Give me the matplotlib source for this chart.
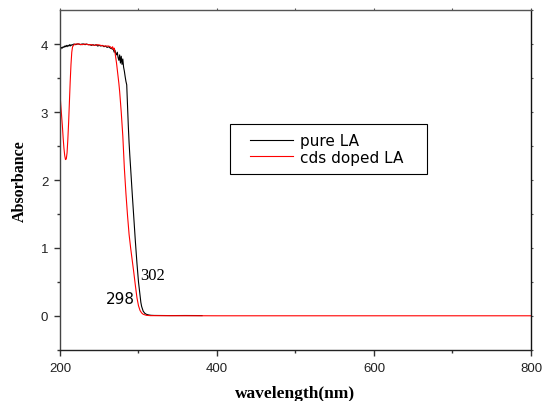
import matplotlib
matplotlib.use("Agg")
import matplotlib.pyplot as plt
from matplotlib.lines import Line2D
from matplotlib.legend_handler import HandlerLine2D
import numpy as np

# pure LA (black)
wl_pure = [200, 201, 202, 203, 204, 205, 206, 207, 208, 209, 210, 211, 212, 213, 214, 215, 216,
           218, 220, 222, 224, 226, 228, 230, 232, 234, 236, 238, 240, 242, 244, 246, 248, 250,
           252, 254, 256, 258, 260, 262, 264, 266, 268, 269, 270, 271, 272, 273, 274, 275, 276,
           277, 278, 279, 280, 281, 282, 283, 284, 285, 286, 287, 288, 289, 290, 292, 294, 296,
           298, 300, 302, 303, 304, 306, 308, 310, 313, 316, 320, 340, 360, 381]
abs_pure = [3.90, 3.93, 3.95, 3.94, 3.96, 3.95, 3.97, 3.96, 3.98, 3.96, 3.98, 3.97, 3.99, 3.97, 3.99, 3.98, 3.99,
            4.00, 3.99, 4.00, 4.00, 3.99, 4.00, 4.00, 3.99, 4.00, 3.99, 3.99, 3.98, 3.99, 3.98, 3.99, 3.97, 3.98,
            3.97, 3.98, 3.96, 3.97, 3.95, 3.96, 3.94, 3.93, 3.92, 3.88, 3.91, 3.86, 3.84, 3.88, 3.80, 3.76, 3.84,
            3.72, 3.82, 3.70, 3.78, 3.66, 3.60, 3.52, 3.45, 3.40, 3.10, 2.80, 2.55, 2.35, 2.17, 1.80, 1.45, 1.10,
            0.78, 0.50, 0.30, 0.20, 0.14, 0.07, 0.04, 0.025, 0.015, 0.01, 0.008, 0.006, 0.007, 0.006]

# cds doped LA (red)
wl_cds = [200, 201, 202, 203, 204, 205, 206, 207, 208, 209, 210, 211, 212, 213, 214, 215, 216, 218,
          220, 224, 228, 232, 236, 240, 244, 248, 252, 256, 260, 262, 264, 266, 267, 268, 269, 270,
          271, 272, 273, 274, 275, 276, 278, 280, 282, 284, 286, 288, 290, 292, 294, 296, 298, 300,
          302, 304, 306, 310, 315, 400, 600, 800]
abs_cds = [3.27, 3.10, 2.95, 2.80, 2.62, 2.47, 2.36, 2.30, 2.31, 2.40, 2.60, 2.85, 3.15, 3.45, 3.70, 3.88, 3.96, 3.99,
           4.00, 4.00, 3.99, 4.00, 3.99, 3.99, 3.98, 3.99, 3.98, 3.97, 3.97, 3.97, 3.96, 3.94, 3.96, 3.92, 3.94, 3.88,
           3.80, 3.72, 3.62, 3.52, 3.42, 3.30, 3.00, 2.65, 2.17, 1.80, 1.48, 1.20, 1.00, 0.82, 0.64, 0.45, 0.27, 0.15,
           0.08, 0.045, 0.025, 0.01, 0.005, 0.003, 0.003, 0.003]

x_ticks = [200, 400, 600, 800]
y_ticks = [0, 1, 2, 3, 4]

fig = plt.figure(figsize=(5.42, 4.02), dpi=100)
ax = fig.add_axes([0.1107, 0.1269, 0.869, 0.8457])

ax.plot(wl_pure, abs_pure, color="black", lw=0.8, label="pure LA")
ax.plot(wl_cds, abs_cds, color="red", lw=0.8, label="cds doped LA")

ax.set_xlim(200, 800)
ax.set_ylim(-0.5, 4.5)
ax.set_xticks(x_ticks)
ax.set_yticks(y_ticks)
ax.set_xticks([300, 500, 700], minor=True)
ax.set_yticks([-0.5, 0.5, 1.5, 2.5, 3.5], minor=True)
ax.tick_params(which="both", direction="out", labelsize=9.5, width=1.0, color="#333333")
ax.tick_params(which="major", length=4.5, pad=4)
ax.tick_params(which="minor", length=2.5)
ax.tick_params(top=False, right=False, which="both")
# tiny ticks on top/right spines
sec_top = ax.secondary_xaxis("top")
sec_top.set_xticks([200, 300, 400, 500, 600, 700, 800])
sec_top.tick_params(length=1.2, labeltop=False, color="#555555")
sec_top.spines["top"].set_visible(False)
sec_right = ax.secondary_yaxis("right")
sec_right.set_yticks([-0.5, 0, 0.5, 1, 1.5, 2, 2.5, 3, 3.5, 4, 4.5])
sec_right.tick_params(length=1.2, labelright=False, color="#555555")
sec_right.spines["right"].set_visible(False)

for lab in ax.get_xticklabels() + ax.get_yticklabels():
    lab.set_family("Liberation Sans")
    lab.set_color("#222222")
ax.spines["top"].set_color("#555555")
ax.spines["left"].set_color("#444444")
ax.spines["bottom"].set_color("#222222")
ax.spines["right"].set_color("#111111")
for s in ax.spines.values():
    s.set_linewidth(1.0)

ax.set_xlabel("wavelength(nm)", family="Liberation Serif", fontweight="bold", fontsize=12.5, labelpad=8)
ax.set_ylabel("Absorbance", family="Liberation Serif", fontweight="bold", fontsize=11.5, labelpad=9)

ax.text(302, 0.6, "302", family="Liberation Serif", fontsize=12, va="center", ha="left")
ax.text(258.5, 0.25, "298", family="DejaVu Sans", fontsize=11, va="center", ha="left")

fs = 11
leg = ax.legend(loc="lower left", bbox_to_anchor=(0.36, 0.518, 0.42, 0.147), mode="expand",
                fancybox=False, edgecolor="black", framealpha=1, borderaxespad=0,
                prop={"family": "DejaVu Sans", "size": fs}, handlelength=3.52,
                handletextpad=0.46, borderpad=0.6, labelspacing=0.1,
                handler_map={Line2D: HandlerLine2D(xpad=0.71)})
leg.get_frame().set_linewidth(0.8)

fig.savefig("out.png", dpi=100)
